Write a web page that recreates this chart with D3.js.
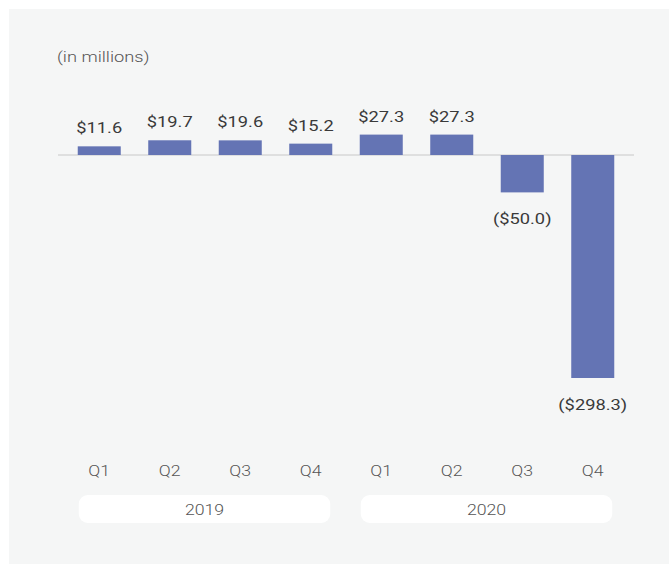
<!DOCTYPE html>
<html>
<head>
<meta charset="utf-8">
<script src="https://cdn.jsdelivr.net/npm/d3@7"></script>
<style>
  body { margin: 0; background: #fff; }
  svg { display: block; font-family: Roboto, sans-serif; }
</style>
</head>
<body>
<svg id="chart"></svg>
<script>
const quarters = ['Q1', 'Q2', 'Q3', 'Q4', 'Q1', 'Q2', 'Q3', 'Q4']
const years = ['2019', '2020']
const values = [11.6, 19.7, 19.6, 15.2, 27.3, 27.3, -50.0, -298.3]
const valueLabels = ['$11.6', '$19.7', '$19.6', '$15.2', '$27.3', '$27.3', '($50.0)', '($298.3)']

const width = 669
const height = 564
const stretch = 1.18   // text in the source is a bit wide
const keys = quarters.map((q, i) => i)

const svg = d3.select('#chart')
    .attr('width', width)
    .attr('height', height)

// panel background
svg.append('rect')
    .attr('x', 9)
    .attr('y', 9)
    .attr('width', width - 9)
    .attr('height', height - 9)
    .attr('fill', '#f5f6f6')

const xScale = d3.scaleBand()
    .domain(keys)
    .range([64, 628])
    .paddingInner(0.39)
    .paddingOuter(0.195)

const yScale = d3.scaleLinear()
    .domain([-298.3, 27.3])
    .range([378, 134.6])

const place = (x, y) => `translate(${x},${y}) scale(${stretch},1)`

svg.append('text')
    .attr('transform', place(57, 62))
    .attr('fill', '#555')
    .style('font-size', '15.5px')
    .style('font-weight', 300)
    .text('(in millions)')

// zero line
svg.append('line')
    .attr('x1', 58)
    .attr('x2', 634)
    .attr('y1', yScale(0))
    .attr('y2', yScale(0))
    .attr('stroke', '#c8c8c8')
    .attr('stroke-width', 1)

svg.selectAll('.bar')
    .data(keys)
    .enter()
    .append('rect')
    .attr('class', 'bar')
    .attr('x', i => xScale(i))
    .attr('width', xScale.bandwidth())
    .attr('y', i => yScale(Math.max(0, values[i])))
    .attr('height', i => Math.abs(yScale(values[i]) - yScale(0)))
    .attr('fill', '#6474b4')

const center = i => xScale(i) + xScale.bandwidth() / 2

svg.selectAll('.value-label')
    .data(keys)
    .enter()
    .append('text')
    .attr('class', 'value-label')
    .attr('transform', i => place(center(i), values[i] >= 0 ? yScale(values[i]) - 13 : yScale(values[i]) + 32))
    .attr('text-anchor', 'middle')
    .attr('fill', '#3a3a3a')
    .style('font-size', '15.5px')
    .text(i => valueLabels[i])

svg.selectAll('.quarter-label')
    .data(keys)
    .enter()
    .append('text')
    .attr('class', 'quarter-label')
    .attr('transform', i => place(center(i), 476))
    .attr('text-anchor', 'middle')
    .attr('fill', '#555')
    .style('font-size', '15px')
    .style('font-weight', 300)
    .text(i => quarters[i])

// year pills spanning their four quarters
const yearGroups = svg.selectAll('.year')
    .data(years)
    .enter()
    .append('g')
    .attr('class', 'year')

const pillX = j => xScale(j * 4) + 1
const pillW = j => xScale(j * 4 + 3) + xScale.bandwidth() - xScale(j * 4) - 3

yearGroups.append('rect')
    .attr('x', (y, j) => pillX(j))
    .attr('width', (y, j) => pillW(j))
    .attr('y', 495)
    .attr('height', 28)
    .attr('rx', 9)
    .attr('fill', '#fff')

yearGroups.append('text')
    .attr('transform', (y, j) => place(pillX(j) + pillW(j) / 2, 515))
    .attr('text-anchor', 'middle')
    .attr('fill', '#555')
    .style('font-size', '15px')
    .style('font-weight', 300)
    .text(y => y)
</script>
</body>
</html>
